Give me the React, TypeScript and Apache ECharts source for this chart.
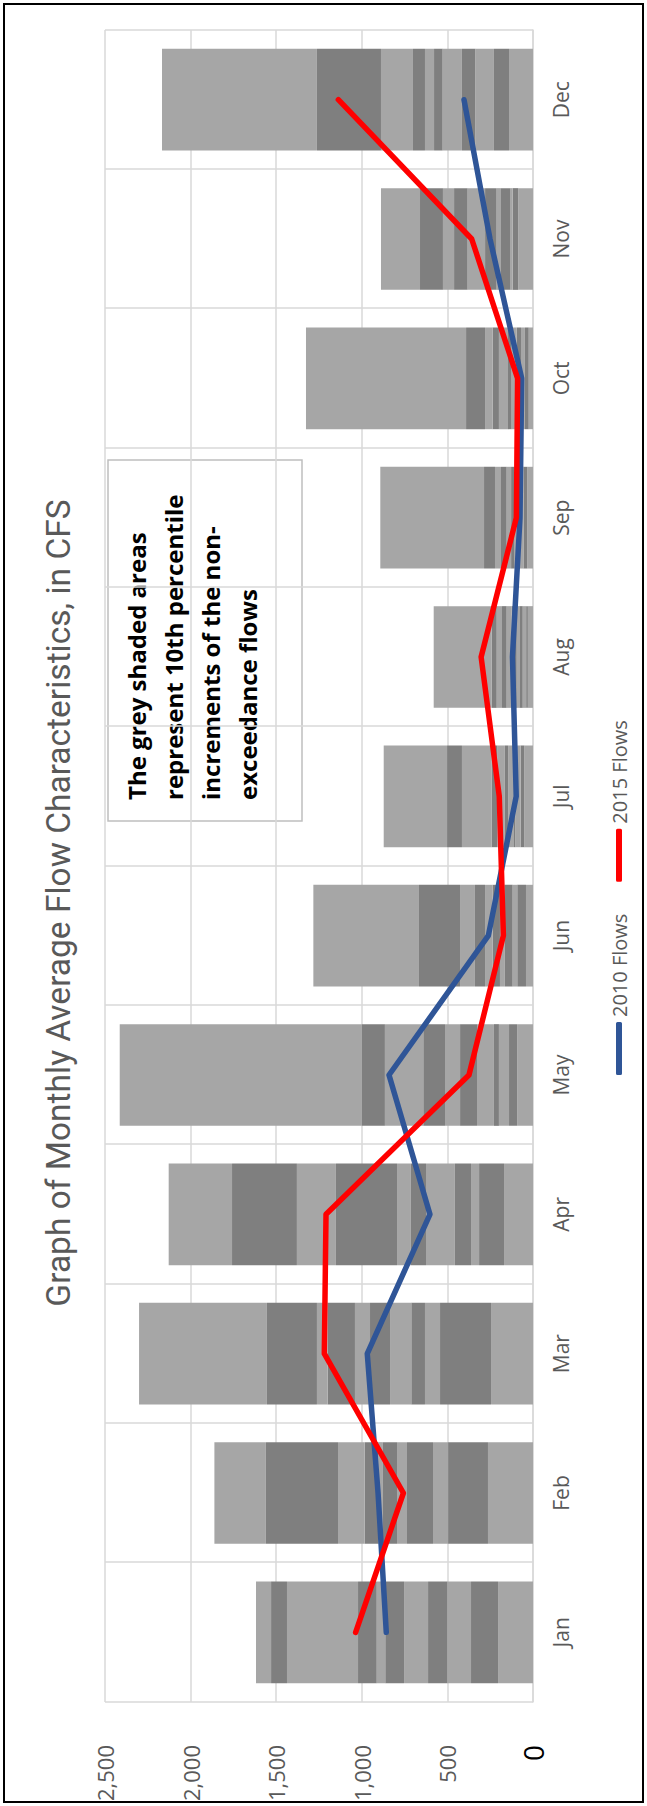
import React, { useEffect, useRef } from "react";
import * as echarts from "echarts";

const months = ["Jan", "Feb", "Mar", "Apr", "May", "Jun", "Jul", "Aug", "Sep", "Oct", "Nov", "Dec"];

// Cumulative non-exceedance flows (cfs) at each 10th-percentile step
const pct0 = [204, 263, 245, 169, 92, 41, 51, 30, 33, 25, 86, 140];
const pct10 = [362, 496, 543, 315, 140, 92, 72, 40, 56, 47, 119, 228];
const pct20 = [500, 584, 631, 362, 199, 119, 103, 60, 76, 70, 134, 337];
const pct30 = [613, 736, 711, 456, 228, 164, 111, 80, 95, 95, 187, 415];
const pct40 = [753, 794, 835, 625, 327, 193, 144, 95, 111, 125, 216, 528];
const pct50 = [863, 880, 952, 713, 426, 236, 164, 125, 128, 146, 280, 578];
const pct60 = [913, 905, 1040, 794, 514, 280, 208, 154, 154, 199, 382, 631];
const pct70 = [1022, 983, 1199, 1151, 641, 339, 241, 181, 187, 236, 461, 701];
const pct80 = [1437, 1139, 1262, 1379, 865, 426, 415, 212, 222, 280, 526, 888];
const pct90 = [1530, 1560, 1554, 1758, 999, 666, 502, 241, 286, 391, 660, 1262];
const pct100 = [1618, 1861, 2301, 2128, 2414, 1283, 872, 580, 892, 1326, 888, 2167];

const flows2010 = [857, 905, 968, 602, 841, 261, 98, 120, 76, 66, 251, 403];
const flows2015 = [1036, 757, 1219, 1209, 374, 173, 197, 303, 97, 90, 358, 1137];

const valueTicks = [0, 500, 1000, 1500, 2000, 2500];

const titleText = "Graph of Monthly Average Flow Characteristics, in CFS";
const noteLines = [
  "The grey shaded areas",
  "represent 10th percentile",
  "increments of the non-",
  "exceedance flows",
];

const percentileSets = [pct0, pct10, pct20, pct30, pct40, pct50, pct60, pct70, pct80, pct90, pct100];
const percentileNames = ["0%", "10%", "20%", "30%", "40%", "50%", "60%", "70%", "80%", "90%", "100%"];

const W = 1806;
const H = 647;

export default function App() {
  const ref = useRef<HTMLDivElement>(null);

  useEffect(() => {
    if (!ref.current) return;
    const chart = echarts.init(ref.current, null, { renderer: "svg" });
    const light = "#A6A6A6";
    const dark = "#7F7F7F";
    const blue = "#2F5597";
    const red = "#FF0000";
    const barSeries = percentileSets.map((set, i) => ({
      name: percentileNames[i],
      type: "bar",
      stack: "flows",
      barWidth: "73%",
      silent: true,
      itemStyle: { color: i % 2 === 0 ? light : dark },
      data: set.map((v, m) => v - (i > 0 ? percentileSets[i - 1][m] : 0)),
      z: 2,
    }));
    const option: any = {
      animation: false,
      backgroundColor: "#fff",
      textStyle: { fontFamily: "'Open Sans', sans-serif" },
      title: {
        text: titleText,
        left: "center",
        top: 38,
        padding: 0,
        textStyle: {
          fontFamily: "Roboto, 'Open Sans', sans-serif",
          fontSize: 33.5,
          fontWeight: "normal",
          color: "#595959",
          lineHeight: 40,
        },
      },
      grid: { left: 104, right: 30, top: 105, bottom: 114 },
      legend: {
        data: [
          { name: "2010 Flows", icon: "roundRect", itemStyle: { color: blue } },
          { name: "2015 Flows", icon: "roundRect", itemStyle: { color: red } },
        ],
        left: 726,
        top: 604,
        itemWidth: 53,
        itemHeight: 6,
        itemGap: 32,
        textStyle: { fontSize: 20, color: "#595959", fontFamily: "'Open Sans', sans-serif" },
      },
      xAxis: {
        type: "category",
        data: months,
        axisLine: { show: true, lineStyle: { color: "#D9D9D9", width: 1.5 } },
        axisTick: { show: false },
        splitLine: { show: true, lineStyle: { color: "#D9D9D9", width: 1.5 } },
        axisLabel: { fontSize: 21, color: "#595959", margin: 17, fontFamily: "'Open Sans', sans-serif" },
      },
      yAxis: {
        type: "value",
        min: valueTicks[0],
        max: valueTicks[valueTicks.length - 1],
        interval: 500,
        axisLine: { show: false },
        axisTick: { show: false },
        splitLine: { show: true, lineStyle: { color: "#D9D9D9", width: 1.5 } },
        axisLabel: {
          fontSize: 22,
          color: "#595959",
          margin: 43,
          fontFamily: "'Open Sans', sans-serif",
          formatter: (v: number) => (v === 0 ? "{z|0}" : v.toLocaleString("en-US")),
          rich: { z: { fontSize: 28, color: "#000" } },
        },
      },
      graphic: [
        {
          type: "rect",
          shape: { x: 4, y: 4, width: W - 8, height: H - 8 },
          style: { fill: "none", stroke: "#000", lineWidth: 2 },
          silent: true,
          z: 100,
        },
        {
          type: "group",
          z: 50,
          children: [
            {
              type: "rect",
              shape: { x: 985, y: 108, width: 361, height: 194 },
              style: { fill: "#fff", stroke: "#BFBFBF", lineWidth: 1.5 },
            },
            {
              type: "text",
              x: 1006,
              y: 118,
              style: {
                text: noteLines.join("\n"),
                fontSize: 24,
                fontWeight: "bold",
                fontFamily: "'Open Sans', sans-serif",
                fill: "#000",
                lineHeight: 37,
                verticalAlign: "top",
                align: "left",
              },
            },
          ],
        },
      ],
      series: [
        ...barSeries,
        {
          name: "2010 Flows",
          type: "line",
          data: flows2010,
          symbol: "none",
          lineStyle: { color: blue, width: 5.5, cap: "round", join: "round" },
          itemStyle: { color: blue },
          z: 5,
        },
        {
          name: "2015 Flows",
          type: "line",
          data: flows2015,
          symbol: "none",
          lineStyle: { color: red, width: 5.5, cap: "round", join: "round" },
          itemStyle: { color: red },
          z: 6,
        },
      ],
    };
    chart.setOption(option);
    return () => chart.dispose();
  }, []);

  return (
    <div
      style={{
        position: "absolute",
        left: 0,
        top: 0,
        width: H,
        height: W,
        overflow: "hidden",
        background: "#fff",
      }}
    >
      <div
        ref={ref}
        style={{
          position: "absolute",
          left: 0,
          top: 0,
          width: W,
          height: H,
          transformOrigin: "0 0",
          transform: `translateY(${W}px) rotate(-90deg)`,
        }}
      />
    </div>
  );
}
